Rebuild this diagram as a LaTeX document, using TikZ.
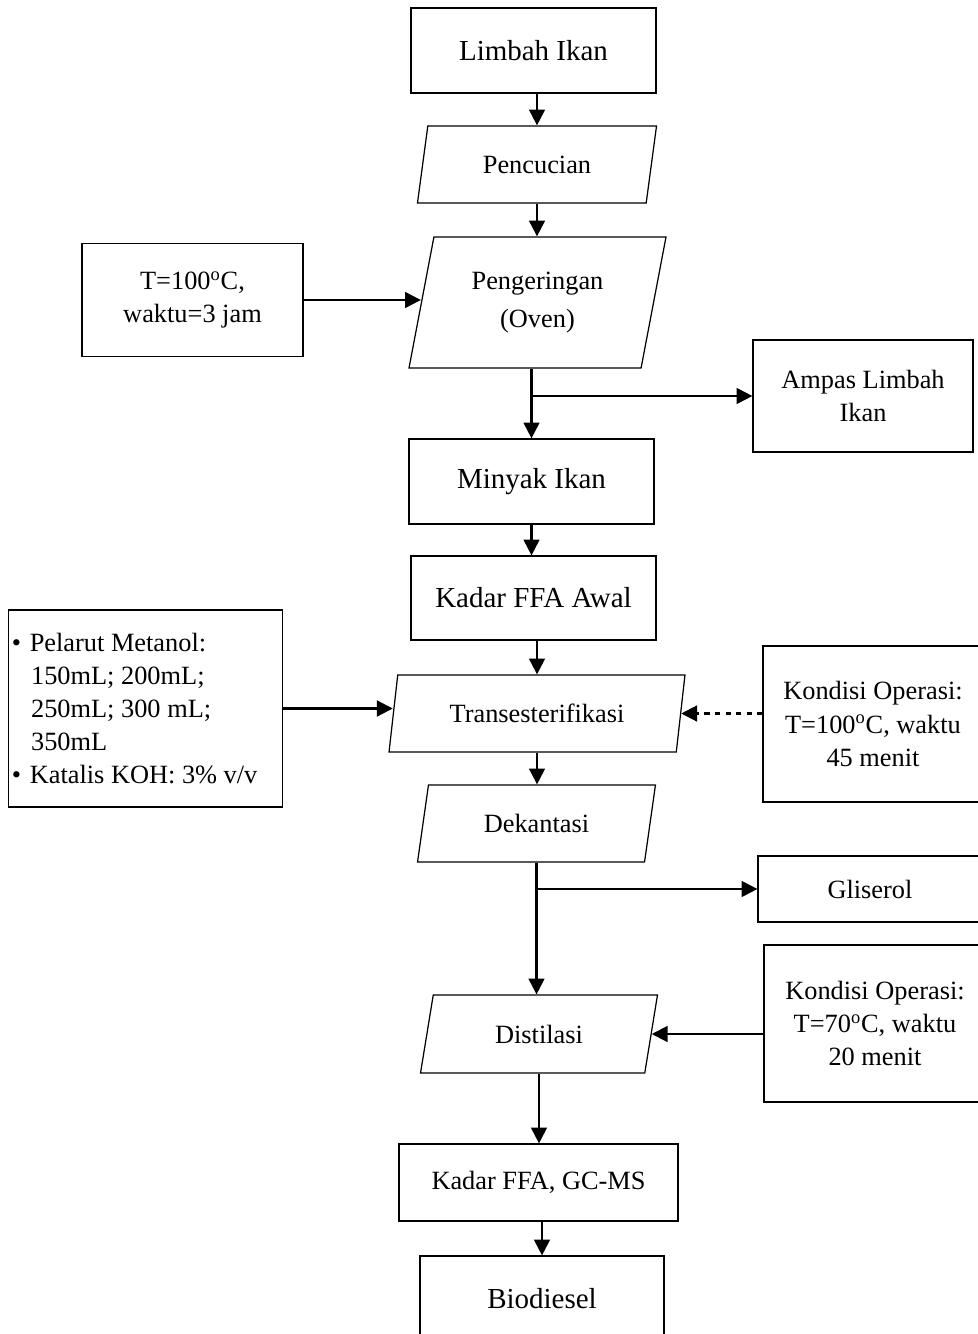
\documentclass[tikz,border=0pt]{standalone}
\usepackage{fontspec}
\setmainfont{Liberation Serif}
\usetikzlibrary{shapes.geometric,arrows.meta}
\tikzset{
  proc/.style={draw, line width=0.7pt, rectangle, align=center, inner sep=1pt,
    font=\fontsize{16.5}{20}\selectfont},
  side/.style={draw, line width=0.7pt, rectangle, align=center, inner sep=1pt,
    font=\fontsize{15}{19}\selectfont},
  io/.style={draw, line width=0.7pt, trapezium, trapezium left angle=76,
    trapezium right angle=104, trapezium stretches=true, align=center,
    inner sep=1pt, font=\fontsize{15}{22}\selectfont},
  boxsize/.style 2 args={minimum width=#1*0.02cm, minimum height=#2*0.02cm},
  arr/.style={-{Triangle[length=9pt,width=9pt]}, line width=1.2pt},
}
\begin{document}
\begin{tikzpicture}[x=0.02cm, y=-0.02cm]
      \useasboundingbox (0,0) rectangle (977,1334);
      % main line
      \node[proc, boxsize={245}{85}] (limbah) at (533.5,50.5) {Limbah Ikan};
      \node[io, boxsize={240}{77}] (cuci) at (537,164.5) {Pencucian};
      \node[io, boxsize={259}{131}] (kering) at (537.5,302.5) {Pengeringan\\(Oven)};
      \node[proc, boxsize={245}{85}] (minyak) at (531.5,481.5) {Minyak Ikan};
      \node[proc, boxsize={245}{84}] (ffaawal) at (533.5,598) {Kadar FFA Awal};
      \node[io, boxsize={296}{77}] (trans) at (537,713.5) {Transesterifikasi};
      \node[io, boxsize={239}{77}] (dekan) at (536.5,823.5) {Dekantasi};
      \node[io, boxsize={238}{78}] (distil) at (539,1034) {Distilasi};
      \node[side, boxsize={279}{77}] (gcms) at (538.5,1182.5) {Kadar FFA, GC-MS};
      \node[proc, boxsize={244}{85}] (bio) at (542,1298.5) {Biodiesel};
      % side boxes
      \node[side, boxsize={221}{113}] (suhu) at (192.5,300) {T=100\textsuperscript{o}C,\\waktu=3 jam};
      \node[side, boxsize={220}{112}] (ampas) at (863,396) {Ampas Limbah\\Ikan};
      \node[side, inner xsep=2pt, text width=5.35cm, minimum height=197*0.02cm, align=left,
        font=\fontsize{15}{18.7}\selectfont] (pelarut) at (145.5,708.5)
        {\spaceskip=0pt\xspaceskip=0pt
         \textbullet\hspace{5pt}Pelarut Metanol:\\
         \hspace*{11pt}150mL; 200mL;\\
         \hspace*{11pt}250mL; 300 mL;\\
         \hspace*{11pt}350mL\\
         \textbullet\hspace{5pt}Katalis KOH: 3\% v/v};
      \node[side, boxsize={220}{156}] (kondisi1) at (873,724) {Kondisi Operasi:\\T=100\textsuperscript{o}C, waktu\\45 menit};
      \node[side, boxsize={224}{66}] (gliserol) at (870,889) {Gliserol};
      \node[side, boxsize={222}{157}] (kondisi2) at (875,1023.5) {Kondisi Operasi:\\T=70\textsuperscript{o}C, waktu\\20 menit};
      \begin{scope}[arr]
        \draw (cuci.north |- limbah.south) to (cuci.north);
        \draw (cuci.south) to (cuci.south |- kering.north);
        \draw (suhu.east) to (suhu.east -| kering.west);
        \draw (minyak.north |- kering.south) to (minyak.north);
        \draw (minyak.north |- ampas.west) to (ampas.west);
        \draw (minyak.south) to (minyak.south |- ffaawal.north);
        \draw (trans.north |- ffaawal.south) to (trans.north);
        \draw (pelarut.east) to (pelarut.east -| trans.west);
        \draw[dashed] (kondisi1.west |- trans.east) to (trans.east);
        \draw (trans.south) to (trans.south |- dekan.north);
        \draw (dekan.south) to (dekan.south |- distil.north);
        \draw (dekan.south |- gliserol.west) to (gliserol.west);
        \draw (kondisi2.west |- distil.east) to (distil.east);
        \draw (distil.south) to (distil.south |- gcms.north);
        \draw (bio.north |- gcms.south) to (bio.north);
      \end{scope}
    \end{tikzpicture}
\end{document}
